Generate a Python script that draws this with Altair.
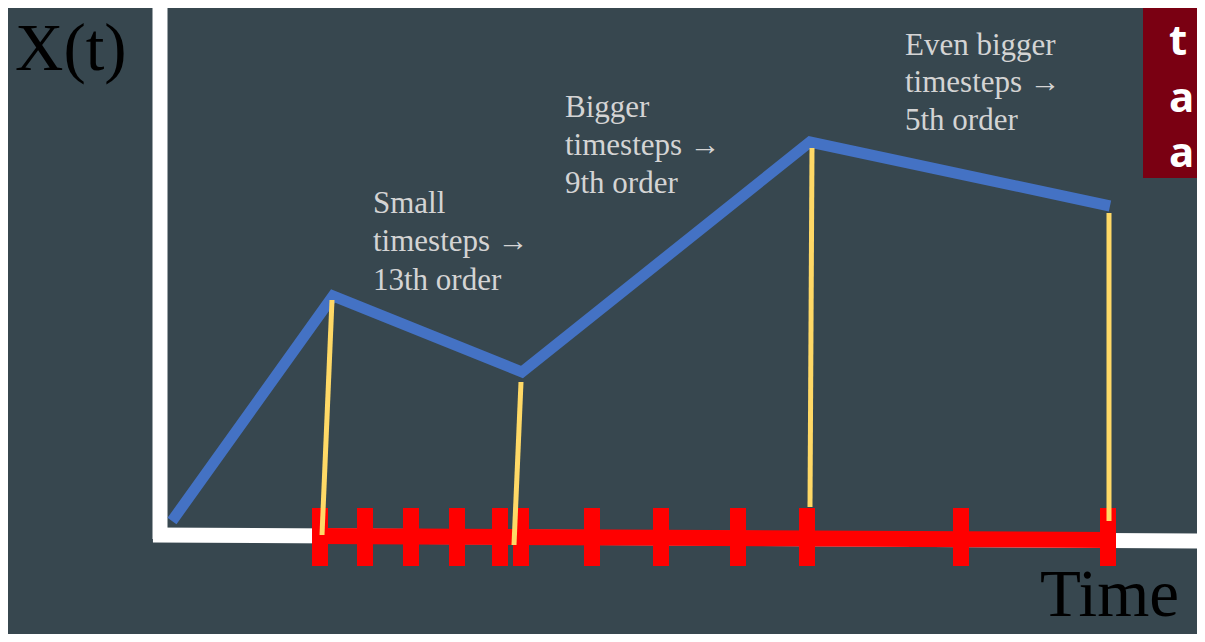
import altair as alt
import pandas as pd

# ---- values (time units, X(t) units) ----
# blue curve X(t)
curve_t = [1.2, 17.3, 36.2, 65.0, 95.0]
curve_x = [1.4, 23.9, 16.3, 39.3, 32.9]

# yellow drop lines (top point on the curve, bottom point on the time axis)
drop_t_top = [17.2, 36.1, 65.2, 94.9]
drop_x_top = [23.5, 15.3, 38.7, 32.2]
drop_t_bot = [16.2, 35.4, 65.0, 94.9]
drop_x_bot = [0.0, -1.0, 2.8, 1.4]

# red timestep ticks
step_t = [16.0, 20.5, 25.1, 29.7, 34.0, 36.1, 43.2, 50.1, 57.8, 64.7, 80.1, 94.8]
tick_lo = -3.1
tick_hi = 2.7

# red time line
steps_line_t = [16.0, 95.2]
steps_line_x = [-0.1, -0.5]

# white axes
axis_t1 = [0.0, -0.7]
axis_x1 = [53.0, 0.0]
axis_t2 = [0.0, 104.5]
axis_x2 = [-0.4, -0.6]

# annotations
ann_lines = ["Small", "timesteps \u2192", "13th order",
             "Bigger", "timesteps \u2192", "9th order",
             "Even bigger", "timesteps \u2192", "5th order"]
ann_t = [21.3, 21.3, 21.3, 40.5, 40.5, 40.5, 74.5, 74.5, 74.5]
ann_x = [32.2, 28.4, 24.5, 41.8, 38.0, 34.2, 48.0, 44.3, 40.5]

# axis titles
title_text = ["X(t)", "Time"]
title_t = [-14.5, 88.0]
title_x = [46.5, -8.1]

# red box in the corner
box_t = [98.3]
box_t2 = [106.0]
box_x = [54.0]
box_x2 = [35.7]
box_words = ["t", "a", "a"]
box_word_t = [100.9, 100.9, 100.9]
box_word_x = [48.0, 42.3, 36.8]

xs = alt.Scale(domain=[-15.2, 103.7], nice=False, zero=False)
ys = alt.Scale(domain=[-9.9, 52.7], nice=False, zero=False)

def X(f):
    return alt.X(f, type="quantitative", scale=xs, axis=None)

def Y(f):
    return alt.Y(f, type="quantitative", scale=ys, axis=None)

axes_df = pd.DataFrame({"t": axis_t1, "x": axis_x1, "t2": axis_t2, "x2": axis_x2})
axes = alt.Chart(axes_df).mark_rule(color="white", strokeWidth=15, strokeCap="butt").encode(
    x=X("t"), y=Y("x"), x2="t2", y2="x2")

red_df = pd.DataFrame({"t": [steps_line_t[0]], "x": [steps_line_x[0]],
                       "t2": [steps_line_t[1]], "x2": [steps_line_x[1]]})
red_line = alt.Chart(red_df).mark_rule(color="#ff0000", strokeWidth=16, strokeCap="butt").encode(
    x=X("t"), y=Y("x"), x2="t2", y2="x2")

ticks_df = pd.DataFrame({"t": step_t, "lo": [tick_lo] * len(step_t), "hi": [tick_hi] * len(step_t)})
ticks = alt.Chart(ticks_df).mark_rule(color="#ff0000", strokeWidth=16, strokeCap="butt").encode(
    x=X("t"), y=Y("lo"), y2="hi")

curve_df = pd.DataFrame({"t": curve_t, "x": curve_x, "o": list(range(len(curve_t)))})
curve = alt.Chart(curve_df).mark_line(color="#4472c4", strokeWidth=11, strokeJoin="miter",
                                      strokeCap="butt").encode(
    x=X("t"), y=Y("x"), order="o:Q")

drops_df = pd.DataFrame({"t": drop_t_top, "x": drop_x_top, "t2": drop_t_bot, "x2": drop_x_bot})
drops = alt.Chart(drops_df).mark_rule(color="#ffd966", strokeWidth=5, strokeCap="butt").encode(
    x=X("t"), y=Y("x"), x2="t2", y2="x2")

ann_df = pd.DataFrame({"label": ann_lines, "t": ann_t, "x": ann_x})
ann = alt.Chart(ann_df).mark_text(align="left", baseline="alphabetic", font="Liberation Serif",
                                  fontSize=31, color="#d4d4d4").encode(
    x=X("t"), y=Y("x"), text="label:N")

titles_df = pd.DataFrame({"label": title_text, "t": title_t, "x": title_x})
titles = alt.Chart(titles_df).mark_text(align="left", baseline="alphabetic", font="Liberation Serif",
                                        fontSize=67, color="#000000").encode(
    x=X("t"), y=Y("x"), text="label:N")

box_df = pd.DataFrame({"t": box_t, "t2": box_t2, "x": box_x, "x2": box_x2})
box = alt.Chart(box_df).mark_rect(color="#7a0012", clip=True).encode(
    x=X("t"), x2="t2", y=Y("x"), y2="x2")

words_df = pd.DataFrame({"label": box_words, "t": box_word_t, "x": box_word_x})
words = alt.Chart(words_df).mark_text(align="left", baseline="alphabetic", font="Open Sans",
                                      fontWeight="bold", fontSize=42, color="white").encode(
    x=X("t"), y=Y("x"), text="label:N")

chart = alt.layer(axes, red_line, ticks, curve, drops, ann, titles, box, words).properties(
    width=1189, height=626,
    autosize=alt.AutoSizeParams(type="none"),
    padding=0,
    background="#37474f",
).configure_view(stroke=None)

chart.save("out.html", embed_options={"renderer": "svg", "actions": False})
